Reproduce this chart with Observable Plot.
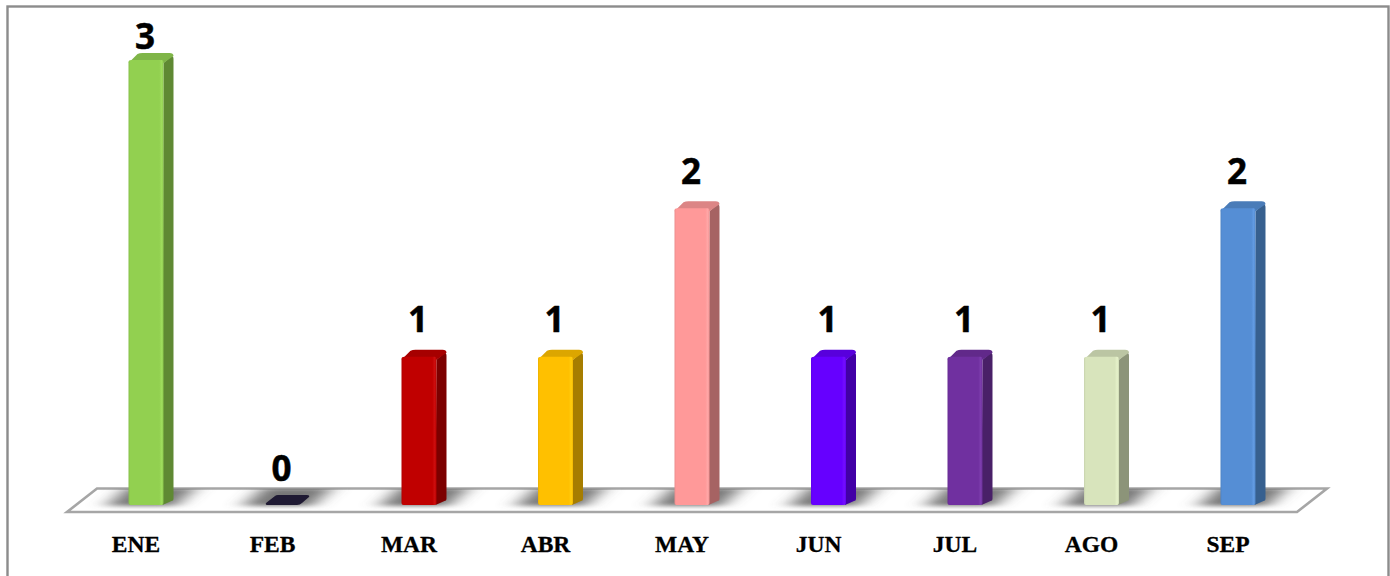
<!DOCTYPE html>
<html><head><meta charset="utf-8">
<script src="https://cdn.jsdelivr.net/npm/d3@7"></script>
<script src="https://cdn.jsdelivr.net/npm/@observablehq/plot@0.6"></script>
<style>html,body{margin:0;padding:0;background:#fff;overflow:hidden}svg{display:block}</style>
</head><body><div id="chart"></div>
<script>
const months = ["ENE","FEB","MAR","ABR","MAY","JUN","JUL","AGO","SEP"];
const counts = [3,0,1,1,2,1,1,1,2];
const fronts = ["#92d050","#1f1a33","#c00000","#ffc000","#ff9999","#6600ff","#7030a0","#d8e4bc","#558ed5"];
const sides  = ["#5f8933","#1a1629","#7c0000","#a67d00","#a66363","#4200a6","#492068","#8c9479","#37608f"];
const tops   = ["#7fb548","#252038","#a60000","#dca600","#dc8585","#5800dc","#61298a","#bbc5a3","#4a7cb8"];
const rows = months.map((m,i)=>({m,v:counts[i],front:fronts[i],side:sides[i],top:tops[i]}));

const DX = 10, DY = -7;
const NS = "http://www.w3.org/2000/svg";
function el(tag, attrs, parent){const e=document.createElementNS(NS,tag);for(const k in attrs)e.setAttribute(k,attrs[k]);if(parent)parent.appendChild(e);return e;}

function floorMark(_i, {x,y}){
  const g = el("g",{});
  const defs = el("defs",{},g);
  const f = el("filter",{id:"blur",x:"-60%",y:"-100%",width:"220%",height:"300%"},defs);
  el("feGaussianBlur",{stdDeviation:"10 2"},f);
  const cp = el("clipPath",{id:"floorclip"},defs);
  const x0=x(months[0]), xN=x(months[months.length-1])+x.bandwidth(), y0=y(0);
  const pts=[[x0-61.5,y0+7],[xN+41.5,y0+7],[xN+71.5,y0-16.5],[x0-31.5,y0-16.5]].map(p=>p.join(",")).join(" ");
  el("polygon",{points:pts},cp);
  el("polygon",{points:pts,fill:"#fff",stroke:"#a6a6a6","stroke-width":2.6},g);
  const s = el("g",{"clip-path":"url(#floorclip)"},g);
  for(const r of rows){
    const X=x(r.m), w=x.bandwidth();
    el("polygon",{points:[[X-22,y0+1],[X+w+DX+2,y0+1],[X+w+DX+22,y0-17],[X-2,y0-17]].map(p=>p.join(",")).join(" "),fill:"#6a6a6a","fill-opacity":0.9,filter:"url(#blur)"},s);
  }
  return g;
}

function barsMark(_i,{x,y}){
  const g = el("g",{});
  const defs = el("defs",{},g);
  rows.forEach((r,i)=>{
    const lg = el("linearGradient",{id:"fg"+i},defs);
    const c=d3.color(r.front);
    [[0,0.92,0],[0.05,1,0],[0.88,1,0],[0.95,1,14],[1,0.95,0]].forEach(([o,k,a])=>{
      el("stop",{offset:o,"stop-color":d3.rgb(Math.min(255,c.r*k+a),Math.min(255,c.g*k+a),Math.min(255,c.b*k+a)).formatHex()},lg);
    });
  });
  rows.forEach((r,i)=>{
    const X=x(r.m), w=x.bandwidth(), yb=y(0), yt=y(r.v);
    if(r.v===0){
      el("path",{d:`M${X+3},${yb} L${X+w-3},${yb} Q${X+w},${yb} ${X+w+2},${yb-2} L${X+w+DX-1},${yb-8} Q${X+w+DX},${yb-10} ${X+w+DX-3},${yb-10} L${X+13},${yb-10} Q${X+11},${yb-10} ${X+10},${yb-9} L${X+1},${yb-2} Q${X},${yb} ${X+3},${yb} Z`,fill:r.front},g);
      return;
    }
    el("path",{d:`M${X+w},${yt+3} L${X+w+DX-2},${yt+DY+3} Q${X+w+DX},${yt+DY+3} ${X+w+DX},${yt+DY+6} L${X+w+DX},${yb+DY+1} Q${X+w+DX},${yb+DY+3} ${X+w+DX-2},${yb+DY+3} L${X+w-1},${yb} Z`,fill:r.side},g);
    el("path",{d:`M${X},${yt+3} L${X+DX-1},${yt+DY+1} Q${X+DX+1},${yt+DY} ${X+DX+4},${yt+DY} L${X+w+DX-4},${yt+DY} Q${X+w+DX},${yt+DY} ${X+w+DX},${yt+DY+3} L${X+w},${yt+3} Z`,fill:r.top},g);
    el("path",{d:`M${X+3},${yt} L${X+w-2},${yt} Q${X+w},${yt} ${X+w},${yt+2} L${X+w},${yb-2} Q${X+w},${yb} ${X+w-2},${yb} L${X+2},${yb} Q${X},${yb} ${X},${yb-2} L${X},${yt+2} Q${X},${yt} ${X+3},${yt} Z`,fill:`url(#fg${i})`},g);
  });
  return g;
}

const valueFont = {fill:"#000",stroke:"#000",strokeWidth:0.5,fontSize:35,fontWeight:700,fontFamily:"'Open Sans',sans-serif"};
const chart = Plot.plot({
  width:1390, height:576,
  margin:0,
  style:{background:"#fff",fontFamily:"'Open Sans',sans-serif"},
  x:{type:"band",domain:months,range:[27,1357],padding:0.7436,align:0.5,round:false,axis:null},
  y:{domain:[0,3],range:[505,60],axis:null},
  marks:[
    Plot.frame({stroke:"#8c8c8c",strokeWidth:2.4,insetLeft:7,insetTop:6,insetRight:2,insetBottom:-6}),
    floorMark,
    barsMark,
    Plot.text(rows.filter(d=>d.v<3),{x:"m",y:"v",text:d=>String(d.v),dx:-1.5,dy:-36,...valueFont}),
    Plot.text(rows.filter(d=>d.v===3),{x:"m",y:"v",text:d=>String(d.v),dx:-1.5,dy:-22.5,...valueFont}),
    Plot.text(rows,{x:"m",y:0,text:"m",dx:-10.5,dy:39,fill:"#000",stroke:"#000",strokeWidth:0.3,fontSize:23.5,fontWeight:700,fontFamily:"'Liberation Serif',serif"})
  ]
});
document.getElementById("chart").appendChild(chart);
</script></body></html>
